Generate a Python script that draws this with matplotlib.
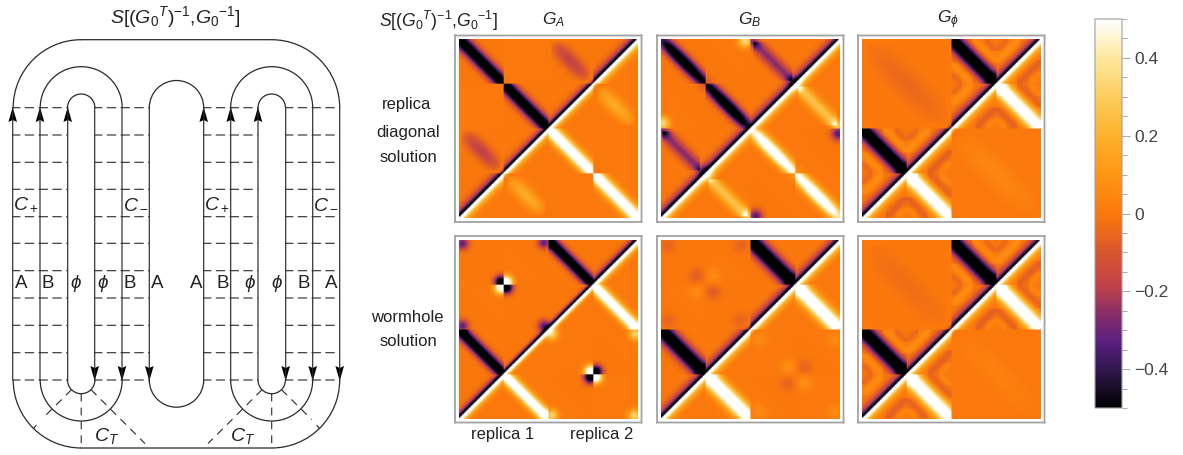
import numpy as np
import matplotlib
matplotlib.use("Agg")
import matplotlib.pyplot as plt
from matplotlib.colors import LinearSegmentedColormap
from matplotlib.patches import Arc

plt.rcParams['font.family'] = ['Liberation Sans', 'DejaVu Sans']
plt.rcParams['mathtext.fontset'] = 'custom'
plt.rcParams['mathtext.rm'] = 'Liberation Sans'
plt.rcParams['mathtext.it'] = 'Liberation Sans:italic'
plt.rcParams['path.snap'] = False

W, H = 1183, 455
INK = '#2a2a2a'
TXT = '#222222'

# --- heatmap features, unit square, upper side of the diagonal only
# (the lower side is the same with the sign flipped)
# band: u0, v0, u1, v1, width, peak value, strength left at the ends (1 = no fade)
# blob: u, v, width, peak value, umin, umax, vmin, vmax
chevrons = [
    (0.62, 1.00, 0.75, 0.87, 0.018, 0.07, 1), (0.75, 0.87, 0.88, 1.00, 0.018, 0.07, 1),
    (0.50, 0.87, 0.62, 0.75, 0.018, 0.07, 1), (0.50, 0.63, 0.62, 0.75, 0.018, 0.07, 1),
    (0.68, 1.00, 0.75, 0.93, 0.014, -0.05, 1), (0.75, 0.93, 0.82, 1.00, 0.014, -0.05, 1),
    (0.50, 0.81, 0.56, 0.75, 0.014, -0.05, 1), (0.50, 0.69, 0.56, 0.75, 0.014, -0.05, 1),
    (0.12, 0.50, 0.25, 0.37, 0.018, 0.07, 1), (0.25, 0.37, 0.38, 0.50, 0.018, 0.07, 1),
    (0.00, 0.37, 0.12, 0.25, 0.018, 0.07, 1), (0.00, 0.13, 0.12, 0.25, 0.018, 0.07, 1),
    (0.18, 0.50, 0.25, 0.43, 0.014, -0.05, 1), (0.25, 0.43, 0.32, 0.50, 0.014, -0.05, 1),
    (0.00, 0.31, 0.06, 0.25, 0.014, -0.05, 1), (0.00, 0.19, 0.06, 0.25, 0.014, -0.05, 1),
]
# main diagonal, thin core and wider purple fringe
diag_core = [(0.00, 0.00, 1.00, 1.00, 0.010, -0.55, 1)]
diag_fringe = [(0.00, 0.00, 0.50, 0.50, 0.027, -0.33, 1), (0.50, 0.50, 1.00, 1.00, 0.027, -0.33, 1)]

ga_diag_bands = diag_core + [
    (0.00, 1.00, 0.25, 0.75, 0.027, -0.65, 1), (0.25, 0.75, 0.50, 0.50, 0.027, -0.65, 1),
    (0.52, 0.98, 0.73, 0.77, 0.030, -0.18, 0), (0.02, 0.48, 0.23, 0.27, 0.030, -0.18, 0),
    (0.00, 0.00, 0.25, 0.25, 0.027, -0.33, 1), (0.25, 0.25, 0.50, 0.50, 0.024, -0.30, 1),
    (0.50, 0.50, 0.75, 0.75, 0.024, -0.30, 1), (0.75, 0.75, 1.00, 1.00, 0.027, -0.33, 1),
]
ga_diag_blobs = []

gb_diag_bands = diag_core + diag_fringe + [
    (0.00, 1.00, 0.25, 0.75, 0.026, -0.66, 0.5), (0.25, 0.75, 0.50, 0.50, 0.026, -0.66, 0.5),
    (0.52, 0.98, 0.73, 0.77, 0.026, -0.26, 1), (0.01, 0.48, 0.22, 0.27, 0.026, -0.26, 1),
]
gb_diag_blobs = [
    (0.25, 0.75, 0.030, -0.10, 0, 1, 0, 1),
    (0.515, 0.985, 0.024, -0.28, 0.5, 1, 0, 1), (0.74, 0.76, 0.024, -0.18, 0, 1, 0, 1),
    (0.015, 0.485, 0.024, -0.28, 0, 1, 0, 0.5), (0.235, 0.265, 0.024, -0.18, 0, 1, 0, 1),
    (0.47, 0.99, 0.026, 0.35, 0, 0.5, 0, 1), (0.01, 0.53, 0.026, 0.35, 0, 1, 0.5, 1),
]

gphi_diag_bands = diag_core + diag_fringe + [
    (0.50, 1.00, 0.75, 0.75, 0.031, -0.66, 1), (0.00, 0.50, 0.25, 0.25, 0.031, -0.66, 1),
    (0.03, 0.97, 0.47, 0.53, 0.050, -0.045, 0),
] + chevrons
gphi_diag_blobs = []

ga_worm_bands = diag_core + [
    (0.50, 1.00, 0.75, 0.75, 0.024, -0.65, 1), (0.00, 0.50, 0.25, 0.25, 0.024, -0.65, 1),
    (0.00, 0.00, 0.25, 0.25, 0.022, -0.33, 1), (0.25, 0.25, 0.75, 0.75, 0.016, -0.25, 1),
    (0.75, 0.75, 1.00, 1.00, 0.022, -0.33, 1),
]
ga_worm_blobs = [
    (0.235, 0.765, 0.024, -0.66, 0, 0.25, 0.75, 1), (0.265, 0.735, 0.024, -0.66, 0.25, 1, 0, 0.75),
    (0.265, 0.765, 0.024, 0.66, 0.25, 1, 0.75, 1), (0.235, 0.735, 0.024, 0.66, 0, 0.25, 0, 0.75),
    (0.02, 0.98, 0.024, -0.33, 0, 1, 0, 1), (0.475, 0.985, 0.024, -0.33, 0, 1, 0, 1),
    (0.02, 0.52, 0.024, -0.33, 0, 1, 0, 1), (0.475, 0.52, 0.024, -0.33, 0, 1, 0, 1),
]

gb_worm_bands = diag_core + diag_fringe + [
    (0.50, 1.00, 0.75, 0.75, 0.032, -0.67, 1), (0.00, 0.50, 0.25, 0.25, 0.032, -0.67, 1),
]
gb_worm_blobs = [
    (0.20, 0.80, 0.030, -0.08, 0, 1, 0, 1), (0.29, 0.80, 0.030, 0.06, 0, 1, 0, 1),
    (0.20, 0.71, 0.030, 0.06, 0, 1, 0, 1), (0.29, 0.71, 0.030, -0.08, 0, 1, 0, 1),
    (0.04, 0.97, 0.030, -0.06, 0, 1, 0, 1), (0.445, 0.97, 0.030, -0.06, 0, 1, 0, 1),
    (0.04, 0.55, 0.030, -0.06, 0, 1, 0, 1), (0.445, 0.55, 0.030, -0.06, 0, 1, 0, 1),
]

gphi_worm_bands = diag_core + diag_fringe + [
    (0.50, 1.00, 0.75, 0.75, 0.032, -0.67, 1), (0.00, 0.50, 0.25, 0.25, 0.032, -0.67, 1),
    (0.03, 0.97, 0.47, 0.53, 0.050, -0.03, 0),
] + chevrons
gphi_worm_blobs = []

# colour scale
cmap_values = [-0.5, -0.44, -0.38, -0.33, -0.25, -0.19, -0.10, 0.0, 0.10, 0.20, 0.30, 0.40, 0.5]
cmap_colors = ['#000000', '#1d1030', '#3d1a5e', '#5a1f80', '#8f3068', '#c0404c', '#d9562e', '#fb780c',
               '#fe9614', '#fdb02c', '#fdcb5c', '#ffe79c', '#ffffff']
bar_major = [-0.4, -0.2, 0, 0.2, 0.4]
bar_labels = ['\u22120.4', '\u22120.2', '0', '0.2', '0.4']
bar_minor = [-0.5, -0.45, -0.35, -0.3, -0.25, -0.15, -0.1, -0.05, 0.05, 0.1, 0.15, 0.25, 0.3, 0.35, 0.45, 0.5]

# contour diagram, in pixels
up_lines = [12.7, 40, 67.7, 203.7, 230.7, 258]
down_lines = [94.7, 122, 149.3, 285.7, 312.7, 339.7]
dash_rows = [107.7, 135, 162.3, 189.3, 216.7, 243.3, 270.7, 298, 325.3, 352.7, 380]
dash_spans = [(12.7, 67.7), (94.7, 149.3), (203.7, 258), (285.7, 339.7)]
loop_centres = [81.2, 271.7]
loop_radii = [13.7, 41]
outer_radius = 68
letters = ['A', 'B', '$\\phi$', '$\\phi$', 'B', 'A', 'A', 'B', '$\\phi$', '$\\phi$', 'B', 'A']
letter_x = [21, 48, 76, 103, 130, 157.7, 196, 222.7, 250, 277, 304, 331.7]


def build_field(bands, blobs, n=120):
    c = (np.arange(n) + 0.5) / n
    u, v = np.meshgrid(c, c)
    f = np.zeros_like(u)
    for u0, v0, u1, v1, w, peak, floor in bands:
        du, dv = u1 - u0, v1 - v0
        ln = np.hypot(du, dv)
        d = ((u - u0) * dv - (v - v0) * du) / ln
        s = ((u - u0) * du + (v - v0) * dv) / ln**2
        inside = (u >= min(u0, u1)) & (u <= max(u0, u1)) & (v >= min(v0, v1)) & (v <= max(v0, v1))
        env = floor + (1 - floor) * np.sin(np.pi * np.clip(s, 0, 1))**0.7
        f += inside * env * peak * np.exp(-0.5 * (d / w)**2)
    for bu, bv, w, peak, umin, umax, vmin, vmax in blobs:
        inside = (u >= umin) & (u <= umax) & (v >= vmin) & (v <= vmax)
        f += inside * peak * np.exp(-0.5 * ((u - bu)**2 + (v - bv)**2) / w**2)
    return np.where(v > u, f, -f.T)


def px_axes(fig, x0, y0, x1, y1):
    return fig.add_axes([x0 / W, 1 - y1 / H, (x1 - x0) / W, (y1 - y0) / H])


cmap = LinearSegmentedColormap.from_list(
    'sunset', [((a + 0.5), b) for a, b in zip(cmap_values, cmap_colors)])

fig = plt.figure(figsize=(W / 100, H / 100), dpi=100)

# heatmap panels: frame box in pixels, data
panels = [
    (455, 35.5, ga_diag_bands, ga_diag_blobs),
    (657, 35.5, gb_diag_bands, gb_diag_blobs),
    (858, 35.5, gphi_diag_bands, gphi_diag_blobs),
    (455, 236, ga_worm_bands, ga_worm_blobs),
    (657, 236, gb_worm_bands, gb_worm_blobs),
    (858, 236, gphi_worm_bands, gphi_worm_blobs),
]
last = None
for x0, y0, bands, blobs in panels:
    ax = px_axes(fig, x0, y0, x0 + 186.5, y0 + 186.5)
    last = ax.imshow(build_field(bands, blobs), origin='lower', extent=(0, 1, 0, 1), cmap=cmap,
                     vmin=-0.5, vmax=0.5, interpolation='bilinear')
    ax.set_xlim(-0.022, 1.022)
    ax.set_ylim(-0.022, 1.022)
    ax.set_xticks([])
    ax.set_yticks([])
    for sp in ax.spines.values():
        sp.set_color('#a2a2a2')
        sp.set_linewidth(1.3)

# colour bar
cax = px_axes(fig, 1095, 19, 1122, 408)
cb = fig.colorbar(last, cax=cax)
cb.set_ticks(bar_major, labels=bar_labels)
cb.ax.set_yticks(bar_minor, minor=True)
cb.ax.tick_params(which='major', length=6, width=0.7, color='#a8a8a8', labelsize=12.5,
                  labelcolor='#444444', pad=3)
cb.ax.tick_params(which='minor', length=3.5, width=0.7, color='#a8a8a8')
cb.outline.set_edgecolor('#a0a0a0')
cb.outline.set_linewidth(0.8)

# overlay in pixel coordinates for the diagram and all labels
ov = fig.add_axes([0, 0, 1, 1])
ov.set_xlim(0, W)
ov.set_ylim(H, 0)
ov.axis('off')
ov.patch.set_alpha(0)

for x in up_lines + down_lines:
    ov.plot([x, x], [dash_rows[0], dash_rows[-1]], color=INK, lw=0.85)
for y in dash_rows:
    for a, b in dash_spans:
        ov.plot([a, b], [y, y], color=INK, lw=0.8, ls=(1.5, (8.4, 4)))

top, bot = dash_rows[0], dash_rows[-1]
for cx in loop_centres:
    for r in loop_radii:
        ov.add_patch(Arc((cx, top), 2 * r, 2 * r, theta1=180, theta2=360, color=INK, lw=0.9))
        ov.add_patch(Arc((cx, bot), 2 * r, 2 * r, theta1=0, theta2=180, color=INK, lw=0.9))
d = 2 * outer_radius
ov.add_patch(Arc((loop_centres[0], top), d, d, theta1=180, theta2=270, color=INK, lw=0.9))
ov.add_patch(Arc((loop_centres[1], top), d, d, theta1=270, theta2=360, color=INK, lw=0.9))
ov.add_patch(Arc((loop_centres[0], bot), d, d, theta1=90, theta2=180, color=INK, lw=0.9))
ov.add_patch(Arc((loop_centres[1], bot), d, d, theta1=0, theta2=90, color=INK, lw=0.9))
ov.add_patch(Arc((176.5, top), 54.4, 54.4, theta1=180, theta2=360, color=INK, lw=0.9))
ov.add_patch(Arc((176.5, bot), 54.4, 54.4, theta1=0, theta2=180, color=INK, lw=0.9))
ov.plot(loop_centres, [top - outer_radius] * 2, color=INK, lw=0.9)
ov.plot(loop_centres, [bot + outer_radius] * 2, color=INK, lw=0.9)

# arrow heads
for x in up_lines:
    ov.fill([x, x - 4.3, x, x + 4.3], [107, 122, 120, 122], color='black', lw=0)
for x in down_lines:
    ov.fill([x, x - 4.3, x, x + 4.3], [381, 366, 368, 366], color='black', lw=0)

# time cuts below the loops
cuts = [
    ((81.2, 393.7), (81.2, 448)), ((71.5, 389.7), (42, 419)), ((91, 389.7), (145, 443.5)),
    ((271.7, 393.7), (271.7, 448)), ((262, 389.7), (208, 443.5)), ((281.5, 389.7), (311.7, 419.5)),
]
for (xa, ya), (xb, yb) in cuts:
    ov.plot([xa, xb], [ya, yb], color=INK, lw=0.8, ls=(0, (7, 5.5)))
ov.plot([33.5, 36], [428.5, 425.5], color=INK, lw=0.8)
ov.plot([317, 319.5], [425.5, 428.5], color=INK, lw=0.8)

ttl = '$\\mathit{S}[(G_0{}^{T})^{-1}$,$G_0{}^{-1}]$'
ov.text(175.5, 17, ttl, fontsize=14, ha='center', va='center', color=TXT)
ov.text(438, 21, ttl, fontsize=12.7, ha='center', va='center', color=TXT)
for x, s in zip([553, 750, 948], ['$G_A$', '$G_B$', '$G_\\phi$']):
    ov.text(x, 20, s, fontsize=12.5, ha='center', va='center', color=TXT)
for x, s in zip([26, 136, 217, 326], ['$C_+$', '$C_-$', '$C_+$', '$C_-$']):
    ov.text(x, 204, s, fontsize=14, ha='center', va='center', color=TXT)
for x, s in zip(letter_x, letters):
    ov.text(x, 284, s, fontsize=13.5, ha='center', va='center', color=TXT)
for x in [107, 243]:
    ov.text(x, 436, '$C_T$', fontsize=14, ha='center', va='center', color=TXT)
for x, y, s in [(407, 105, 'replica'), (408, 132, 'diagonal'), (408, 157, 'solution'),
                (407, 317, 'wormhole'), (408, 341, 'solution'),
                (503, 434, 'replica 1'), (602, 434, 'replica 2')]:
    ov.text(x, y, s, fontsize=12, ha='center', va='center', color=TXT)

fig.savefig('out.png', dpi=100)
